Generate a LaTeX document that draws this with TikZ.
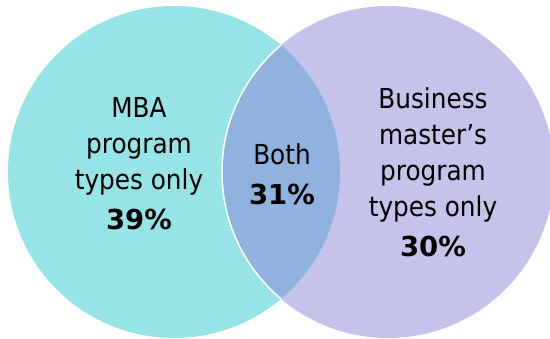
\documentclass[tikz,border=0pt]{standalone}
\usepackage{fontspec}
\setmainfont{DejaVu Sans Condensed}
\newfontfamily\pctfont{DejaVu Sans}
\usetikzlibrary{positioning}
\definecolor{mbacyan}{RGB}{150,228,230}
\definecolor{masterlilac}{RGB}{197,195,234}
\definecolor{bothblue}{RGB}{143,179,222}
\newcommand{\pct}[1]{{\pctfont\bfseries #1\%}}

\begin{document}
\begin{tikzpicture}[x=1pt, y=-1pt,
    lbl/.style={align=center, inner sep=0pt, anchor=base, font=\fontsize{27.5}{36}\selectfont}
]
    \useasboundingbox (0,0) rectangle (550,339);
    \coordinate (mbactr) at (174,172);
    \coordinate (mstctr) at (388,172);
    % the two sets
    \fill[mbacyan] (mbactr) circle[radius=166pt];
    \fill[masterlilac] (mstctr) circle[radius=166pt];
    % overlap
    \begin{scope}
        \clip (mbactr) circle[radius=166pt];
        \fill[bothblue] (mstctr) circle[radius=166pt];
        \draw[white, line width=1.5pt] (mstctr) circle[radius=166pt];
    \end{scope}
    % anchored at the baseline of the last line
    \node[lbl] (mbatxt) at (139,230) {MBA\\program\\types only\\[4pt]\pct{39}};
    \node[lbl] (bothtxt) at (282,205) {Both\\[4pt]\pct{31}};
    \node[lbl] (msttxt) at (433,257) {Business\\master’s\\program\\types only\\[4pt]\pct{30}};
\end{tikzpicture}
\end{document}
